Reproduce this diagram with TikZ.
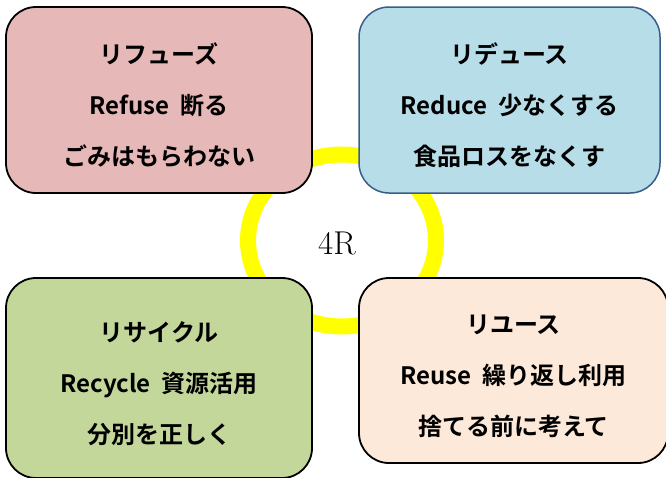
\documentclass[tikz,border=0pt]{standalone}
\usepackage{fontspec}
\usepackage{xcolor}
\usetikzlibrary{positioning}
\newfontfamily\jpfont[BoldFont={Noto Sans CJK JP Bold}]{Noto Sans CJK JP}
\definecolor{refusepink}{RGB}{230,185,184}
\definecolor{reduceblue}{RGB}{183,221,232}
\definecolor{reduceedge}{RGB}{56,93,138}
\definecolor{recyclegreen}{RGB}{196,215,155}
\definecolor{reusepeach}{RGB}{253,233,217}
\definecolor{ringyellow}{RGB}{255,255,0}
\newcommand{\toplift}{\rule{0pt}{31pt}}

\begin{document}
\begin{tikzpicture}[x=1pt, y=-1pt,
    rbox/.style={draw=black, line width=1.8pt, rounded corners=30pt, align=center,
        inner sep=0pt, font=\jpfont\bfseries\fontsize{24}{51}\selectfont}]
    \useasboundingbox (0,0) rectangle (666,477);
    % ring behind the four boxes
    \draw[ringyellow, line width=16pt] (342,240.5) ellipse [x radius=94pt, y radius=86pt];
    \node (core) at (337,243) {\fontsize{33}{33}\selectfont 4R};
    \node[rbox, fill=refusepink, minimum width=306pt, minimum height=186pt] (refuse) at (159,100)
        {\toplift リフューズ\\Refuse\ \ 断る\\ごみはもらわない};
    \node[rbox, fill=reduceblue, draw=reduceedge, line width=1.5pt, minimum width=301pt, minimum height=186pt] (reduce) at (509.5,100)
        {\toplift リデュース\\Reduce\ \ 少なくする\\食品ロスをなくす};
    \node[rbox, fill=recyclegreen, minimum width=306pt, minimum height=200pt] (recycle) at (159,378)
        {\toplift リサイクル\\Recycle\ \ 資源活用\\分別を正しく};
    \node[rbox, fill=reusepeach, minimum width=309pt, minimum height=185pt] (reuse) at (513.5,370.5)
        {\toplift リユース\\Reuse\ \ 繰り返し利用\\捨てる前に考えて};
\end{tikzpicture}
\end{document}
